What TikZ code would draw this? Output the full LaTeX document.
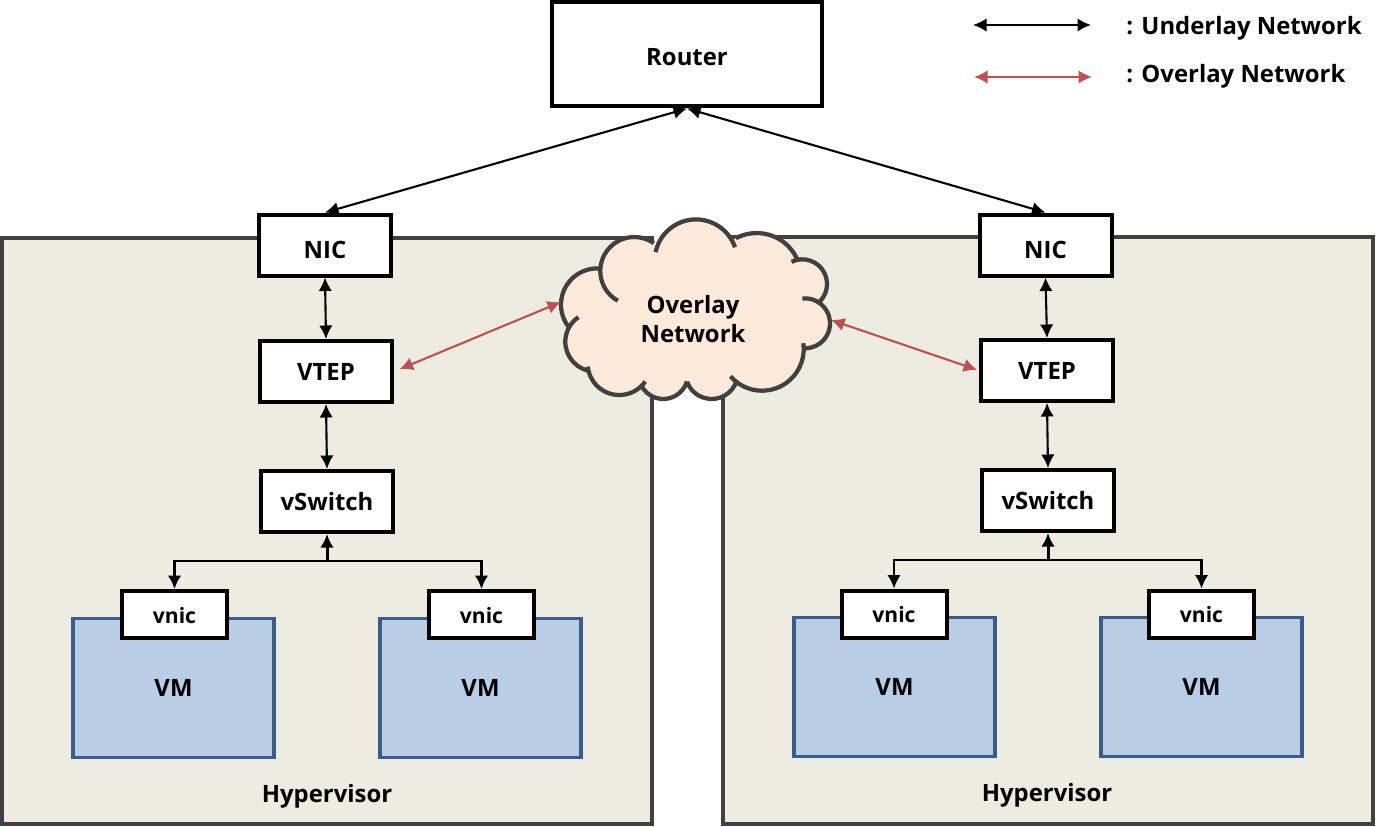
\documentclass[tikz,border=0pt]{standalone}
\usepackage{fontspec}
\setmainfont{Open Sans}
\usetikzlibrary{arrows.meta}
\definecolor{hostfill}{HTML}{EEECE1}
\definecolor{hostline}{HTML}{404040}
\definecolor{vmfill}{HTML}{B9CDE5}
\definecolor{vmline}{HTML}{385D8A}
\definecolor{cloudfill}{HTML}{FDEADA}
\definecolor{overlayred}{HTML}{C0504D}
\tikzset{
    hostbox/.style={draw=hostline,fill=hostfill,line width=0.08cm,minimum width=13cm,minimum height=11.74cm,inner sep=0},
    netbox/.style={draw=black,fill=white,line width=0.08cm,minimum width=2.64cm,minimum height=1.22cm,inner sep=0,text height=0.34cm,text depth=0pt,font=\fontsize{13.6}{16}\selectfont\bfseries},
    routerbox/.style={netbox,minimum width=5.42cm,minimum height=2.1cm},
    vnicbox/.style={netbox,minimum width=2.1cm,minimum height=0.94cm,font=\fontsize{12}{14}\selectfont\bfseries},
    vmbox/.style={draw=vmline,fill=vmfill,line width=0.07cm,minimum width=4.02cm,minimum height=2.78cm,inner sep=0},
    lbl/.style={inner sep=0,font=\fontsize{13.6}{16}\selectfont\bfseries},
    underlay/.style={<->,>={Latex[length=0.27cm,width=0.27cm]},line width=0.042cm,black},
    overlay/.style={<->,>={Latex[length=0.27cm,width=0.27cm]},line width=0.042cm,overlayred},
    cloudline/.style={draw=hostline,line width=0.085cm}
}
\def\cloudlobes{696/260.7/41.3/192/341, 756.7/277.3/44.3/242/337, 802.3/284/24.7/244/410,
    805/323.3/25/264/454, 762/349/41.7/-8/139, 711.7/372.8/26.2/16/160, 663.3/374.3/24.7/17/155,
    619.3/363.3/31.7/35/174, 595/341.7/29.7/104/236, 597.3/304.7/36.3/143/274, 634.3/271/34/119/305}

\begin{document}
\begin{tikzpicture}[x=0.02cm,y=-0.02cm]
    \useasboundingbox (0,0) rectangle (1396,826);

    % hypervisors
    \node[hostbox] (hostl) at (327,531) {};
    \node[hostbox] (hostr) at (1048,530.5) {};

    % cloud
    \foreach \cx/\cy/\r/\a/\b in \cloudlobes{
        \fill[cloudfill] (\cx,\cy) circle (\r);
    }
    \fill[cloudfill] (620,270) rectangle (790,370);
    \foreach \cx/\cy/\r/\a/\b in \cloudlobes{
        \draw[cloudline] ({\cx+\r*cos(\a)},{\cy+\r*sin(\a)}) arc[start angle=\a,end angle=\b,radius=\r];
    }
    \node[lbl,align=center] (cloudlbl) at (693,319) {Overlay\\[1pt]Network};
    \coordinate (cloudw) at (561,302);
    \coordinate (cloude) at (831,320);

    % boxes
    \node[routerbox,text height=0.46cm] (router) at (687,54) {Router};
    \node[netbox,text height=0.54cm] (nicl) at (325,245) {NIC};
    \node[netbox] (vtepl) at (326,371.5) {VTEP};
    \node[netbox] (vswl) at (327,501.5) {vSwitch};
    \node[netbox,text height=0.54cm] (nicr) at (1045.5,245) {NIC};
    \node[netbox] (vtepr) at (1047,370.5) {VTEP};
    \node[netbox] (vswr) at (1048,500.5) {vSwitch};

    \node[vmbox] (vmla) at (173.5,688) {};
    \node[vmbox] (vmlb) at (480.5,688) {};
    \node[vmbox] (vmra) at (894.5,687) {};
    \node[vmbox] (vmrb) at (1201.5,687) {};
    \node[lbl] at (vmla) {VM};
    \node[lbl] at (vmlb) {VM};
    \node[lbl] at (vmra) {VM};
    \node[lbl] at (vmrb) {VM};

    \node[vnicbox] (vnicla) at (174.5,614.5) {vnic};
    \node[vnicbox] (vniclb) at (481.5,614.5) {vnic};
    \node[vnicbox] (vnicra) at (894,614) {vnic};
    \node[vnicbox] (vnicrb) at (1201.5,614) {vnic};

    \node[lbl] (hypl) at (327,796) {Hypervisor};
    \node[lbl] (hypr) at (1047,795) {Hypervisor};

    % underlay links
    \draw[underlay] (router.south) -- (nicl.north);
    \draw[underlay] (router.south) -- (nicr.north);
    \draw[underlay] (nicl.south) -- (vtepl.north);
    \draw[underlay] (vtepl.south) -- (vswl.north);
    \draw[underlay] (nicr.south) -- (vtepr.north);
    \draw[underlay] (vtepr.south) -- (vswr.north);

    \coordinate (busl) at (327,561);
    \coordinate (busr) at (1048,560);
    \draw[underlay,->,line width=0.06cm] (busl) -- (vswl.south);
    \draw[underlay,->] (busl) -| (vnicla.north);
    \draw[underlay,->] (busl) -| (vniclb.north);
    \draw[underlay,->,line width=0.06cm] (busr) -- (vswr.south);
    \draw[underlay,->] (busr) -| (vnicra.north);
    \draw[underlay,->] (busr) -| (vnicrb.north);

    % overlay links
    \draw[overlay,shorten <=0.12cm] (vtepl.east) -- (cloudw);
    \draw[overlay,shorten >=0.04cm] (cloude) -- (vtepr.west);

    % legend
    \coordinate (ula) at (973,25);
    \coordinate (ulb) at (1091,25);
    \coordinate (ola) at (974,77);
    \coordinate (olb) at (1092,77);
    \draw[underlay] (ula) -- (ulb);
    \draw[overlay] (ola) -- (olb);
    \node[lbl,anchor=west] (ulbl) at (1126,28.5) {: Underlay Network};
    \node[lbl,anchor=west] (olbl) at (1126,76.5) {: Overlay Network};
\end{tikzpicture}
\end{document}
